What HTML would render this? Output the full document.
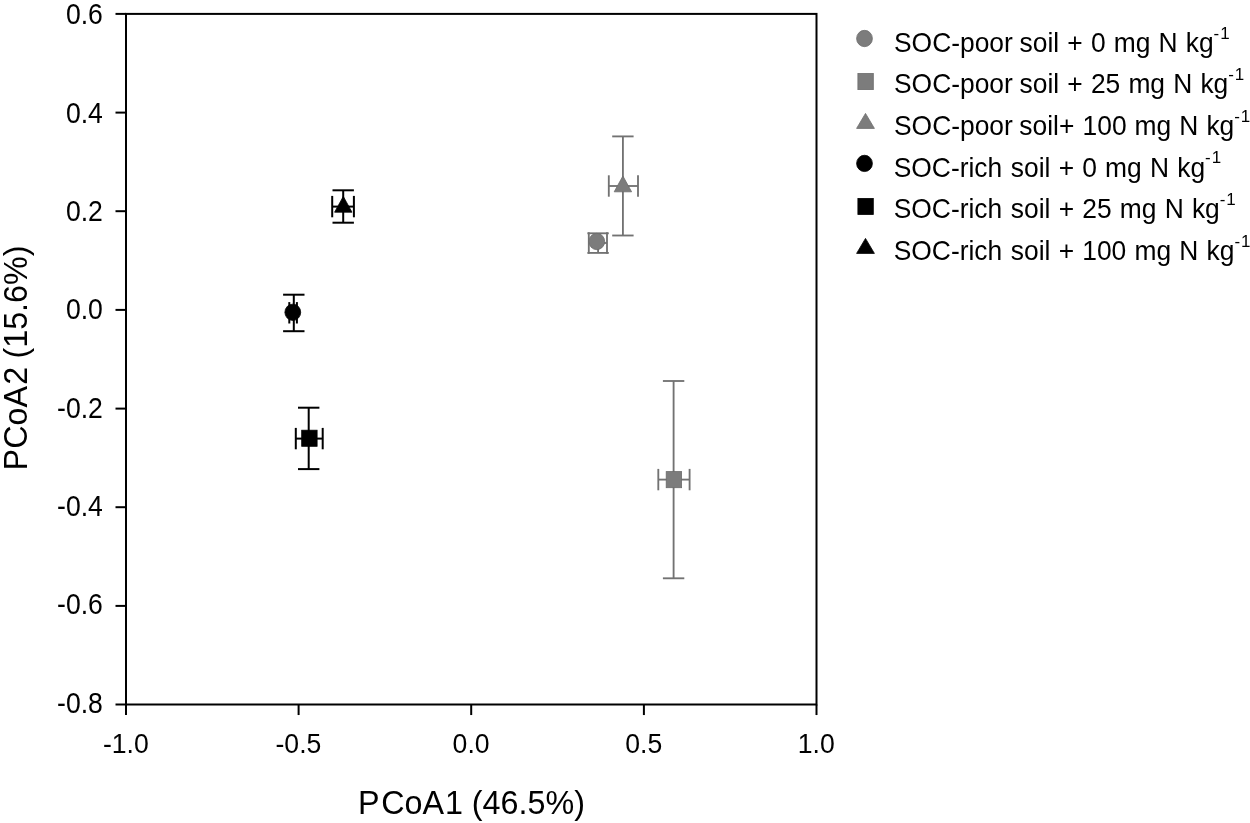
<!DOCTYPE html>
<html><head><meta charset="utf-8"><title>PCoA plot</title>
<style>
html,body{margin:0;padding:0;background:#fff;}
body{width:1250px;height:823px;overflow:hidden;}
svg{display:block;}
text{font-family:"Liberation Sans",sans-serif;fill:#000;}
.tk{font-size:26.6px;}
.ax{font-size:32.3px;}
.lg{font-size:26.4px;}
.sup{font-size:17px;}
</style></head><body>
<svg width="1250" height="823" viewBox="0 0 1250 823">
<rect x="0" y="0" width="1250" height="823" fill="#fff"/>

<g stroke="#000" stroke-width="2.0" fill="none" stroke-linecap="butt">
<rect x="126.0" y="13.9" width="690.5" height="690.6"/>
<line x1="115.5" y1="13.9" x2="126.0" y2="13.9"/>
<line x1="115.5" y1="112.6" x2="126.0" y2="112.6"/>
<line x1="115.5" y1="211.2" x2="126.0" y2="211.2"/>
<line x1="115.5" y1="309.9" x2="126.0" y2="309.9"/>
<line x1="115.5" y1="408.6" x2="126.0" y2="408.6"/>
<line x1="115.5" y1="507.2" x2="126.0" y2="507.2"/>
<line x1="115.5" y1="605.9" x2="126.0" y2="605.9"/>
<line x1="115.5" y1="704.5" x2="126.0" y2="704.5"/>
<line x1="126.0" y1="704.55" x2="126.0" y2="715.05"/>
<line x1="298.6" y1="704.55" x2="298.6" y2="715.05"/>
<line x1="471.2" y1="704.55" x2="471.2" y2="715.05"/>
<line x1="643.9" y1="704.55" x2="643.9" y2="715.05"/>
<line x1="816.5" y1="704.55" x2="816.5" y2="715.05"/>
</g>
<g class="tk">
<text transform="translate(102.9 24.15) scale(1 1.08)" text-anchor="end">0.6</text>
<text transform="translate(102.9 122.54) scale(1 1.08)" text-anchor="end">0.4</text>
<text transform="translate(102.9 220.92) scale(1 1.08)" text-anchor="end">0.2</text>
<text transform="translate(102.9 319.31) scale(1 1.08)" text-anchor="end">0.0</text>
<text transform="translate(102.9 417.69) scale(1 1.08)" text-anchor="end">-0.2</text>
<text transform="translate(102.9 516.08) scale(1 1.08)" text-anchor="end">-0.4</text>
<text transform="translate(102.9 614.46) scale(1 1.08)" text-anchor="end">-0.6</text>
<text transform="translate(102.9 712.85) scale(1 1.08)" text-anchor="end">-0.8</text>
<text transform="translate(125.8 752.95) scale(1 1.05)" text-anchor="middle">-1.0</text>
<text transform="translate(298.4 752.95) scale(1 1.05)" text-anchor="middle">-0.5</text>
<text transform="translate(471.1 752.95) scale(1 1.05)" text-anchor="middle">0.0</text>
<text transform="translate(643.7 752.95) scale(1 1.05)" text-anchor="middle">0.5</text>
<text transform="translate(816.3 752.95) scale(1 1.05)" text-anchor="middle">1.0</text>
</g>
<text class="ax" x="358.1" y="813.8">P<tspan dx="1.6">CoA</tspan><tspan dx="0.8">1 (46.5%)</tspan></text>
<text class="ax" transform="translate(26.5,357) rotate(-90)" x="-113.4" y="0">PCoA<tspan dx="1.2">2</tspan><tspan dx="-0.7"> (15.6%)</tspan></text>
<g stroke="#727272" stroke-width="1.85" fill="none"><line x1="598.1" y1="233.3" x2="598.1" y2="252.9"/><line x1="587.4" y1="233.3" x2="608.8" y2="233.3"/><line x1="587.4" y1="252.9" x2="608.8" y2="252.9"/><line x1="588.8" y1="243.0" x2="607.0" y2="243.0"/><line x1="588.8" y1="232.3" x2="588.8" y2="253.7"/><line x1="607.0" y1="232.3" x2="607.0" y2="253.7"/></g>
<ellipse cx="596.8" cy="241.5" rx="7.9" ry="8.15" fill="#7c7c7c" stroke="#6c6c6c" stroke-width="0.8"/>
<g stroke="#727272" stroke-width="1.85" fill="none"><line x1="673.6" y1="381.0" x2="673.6" y2="578.3"/><line x1="662.9" y1="381.0" x2="684.3" y2="381.0"/><line x1="662.9" y1="578.3" x2="684.3" y2="578.3"/><line x1="658.3" y1="479.6" x2="689.6" y2="479.6"/><line x1="658.3" y1="468.9" x2="658.3" y2="490.3"/><line x1="689.6" y1="468.9" x2="689.6" y2="490.3"/></g>
<rect x="666.2" y="471.6" width="15.4" height="16.1" fill="#7c7c7c" stroke="#6c6c6c" stroke-width="0.8"/>
<g stroke="#727272" stroke-width="1.85" fill="none"><line x1="622.9" y1="136.4" x2="622.9" y2="235.5"/><line x1="612.2" y1="136.4" x2="633.6" y2="136.4"/><line x1="612.2" y1="235.5" x2="633.6" y2="235.5"/><line x1="608.8" y1="186.0" x2="638.0" y2="186.0"/><line x1="608.8" y1="175.3" x2="608.8" y2="196.7"/><line x1="638.0" y1="175.3" x2="638.0" y2="196.7"/></g>
<polygon points="622.9,176.0 631.6,191.8 614.2,191.8" fill="#7c7c7c" stroke="#6c6c6c" stroke-width="0.8" stroke-linejoin="miter"/>
<g stroke="#000" stroke-width="2" fill="none"><line x1="293.8" y1="294.7" x2="293.8" y2="331.2"/><line x1="283.1" y1="294.7" x2="304.5" y2="294.7"/><line x1="283.1" y1="331.2" x2="304.5" y2="331.2"/><line x1="289.3" y1="312.8" x2="296.9" y2="312.8"/><line x1="289.3" y1="302.1" x2="289.3" y2="323.5"/><line x1="296.9" y1="302.1" x2="296.9" y2="323.5"/></g>
<ellipse cx="292.8" cy="312.3" rx="7.9" ry="8.15" fill="#000" stroke="#000" stroke-width="0.8"/>
<g stroke="#000" stroke-width="2" fill="none"><line x1="308.7" y1="407.7" x2="308.7" y2="469.1"/><line x1="298.0" y1="407.7" x2="319.4" y2="407.7"/><line x1="298.0" y1="469.1" x2="319.4" y2="469.1"/><line x1="295.8" y1="438.6" x2="322.7" y2="438.6"/><line x1="295.8" y1="427.9" x2="295.8" y2="449.3"/><line x1="322.7" y1="427.9" x2="322.7" y2="449.3"/></g>
<rect x="301.7" y="430.2" width="15.4" height="16.1" fill="#000" stroke="#000" stroke-width="0.8"/>
<g stroke="#000" stroke-width="2" fill="none"><line x1="343.2" y1="190.3" x2="343.2" y2="222.7"/><line x1="332.5" y1="190.3" x2="353.9" y2="190.3"/><line x1="332.5" y1="222.7" x2="353.9" y2="222.7"/><line x1="332.2" y1="206.6" x2="353.9" y2="206.6"/><line x1="332.2" y1="195.9" x2="332.2" y2="217.3"/><line x1="353.9" y1="195.9" x2="353.9" y2="217.3"/></g>
<polygon points="343.3,196.4 352.0,212.2 334.6,212.2" fill="#000" stroke="#000" stroke-width="0.8" stroke-linejoin="miter"/>
<ellipse cx="864.5" cy="38.5" rx="7.9" ry="8.15" fill="#7c7c7c" stroke="#6c6c6c" stroke-width="0.8"/>
<text class="lg" transform="translate(894.0 51.70) scale(1 1.012)">SOC-poor<tspan dx="-0.5"> soil</tspan><tspan dx="0.8"> +</tspan><tspan dx="0.8"> 0</tspan><tspan dx="0.8"> mg</tspan><tspan dx="0.8"> N</tspan><tspan dx="0.8"> kg</tspan><tspan class="sup" dy="-13">-</tspan><tspan class="sup" dx="0.9">1</tspan></text>
<rect x="857.9" y="73.5" width="15.4" height="16.1" fill="#7c7c7c" stroke="#6c6c6c" stroke-width="0.8"/>
<text class="lg" transform="translate(894.0 93.35) scale(1 1.012)">SOC-poor<tspan dx="-0.5"> soil</tspan><tspan dx="0.8"> +</tspan><tspan dx="0.8"> 25</tspan><tspan dx="0.8"> mg</tspan><tspan dx="0.8"> N</tspan><tspan dx="0.8"> kg</tspan><tspan class="sup" dy="-13">-</tspan><tspan class="sup" dx="0.9">1</tspan></text>
<polygon points="865.5,113.4 874.4,128.4 856.6,128.4" fill="#7c7c7c" stroke="#6c6c6c" stroke-width="0.8" stroke-linejoin="miter"/>
<text class="lg" transform="translate(894.0 135.00) scale(1 1.012)">SOC-poor<tspan dx="-0.75"> soil+</tspan><tspan dx="0.85"> 100</tspan><tspan dx="0.7"> mg</tspan><tspan dx="0.7"> N</tspan><tspan dx="0.7"> kg</tspan><tspan class="sup" dy="-13">-</tspan><tspan class="sup" dx="0.9">1</tspan></text>
<ellipse cx="864.5" cy="163.4" rx="7.9" ry="8.15" fill="#000" stroke="#000" stroke-width="0.8"/>
<text class="lg" transform="translate(893.7 176.65) scale(1 1.012)">SOC-rich<tspan dx="1.3"> soil</tspan><tspan dx="0.86"> +</tspan><tspan dx="0.86"> 0</tspan><tspan dx="0.86"> mg</tspan><tspan dx="0.86"> N</tspan><tspan dx="0.86"> kg</tspan><tspan class="sup" dy="-13">-</tspan><tspan class="sup" dx="0.9">1</tspan></text>
<rect x="857.9" y="198.4" width="15.4" height="16.1" fill="#000" stroke="#000" stroke-width="0.8"/>
<text class="lg" transform="translate(893.7 218.30) scale(1 1.012)">SOC-rich<tspan dx="1.3"> soil</tspan><tspan dx="0.86"> +</tspan><tspan dx="0.86"> 25</tspan><tspan dx="0.86"> mg</tspan><tspan dx="0.86"> N</tspan><tspan dx="0.86"> kg</tspan><tspan class="sup" dy="-13">-</tspan><tspan class="sup" dx="0.9">1</tspan></text>
<polygon points="865.5,238.4 874.4,253.4 856.6,253.4" fill="#000" stroke="#000" stroke-width="0.8" stroke-linejoin="miter"/>
<text class="lg" transform="translate(893.7 259.95) scale(1 1.012)">SOC-rich<tspan dx="1.3"> soil</tspan><tspan dx="0.86"> +</tspan><tspan dx="0.86"> 100</tspan><tspan dx="0.86"> mg</tspan><tspan dx="0.86"> N</tspan><tspan dx="0.86"> kg</tspan><tspan class="sup" dy="-13">-</tspan><tspan class="sup" dx="0.9">1</tspan></text>
</svg></body></html>
